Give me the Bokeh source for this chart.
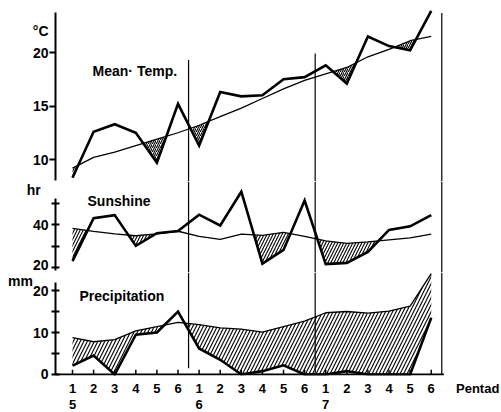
import numpy as np
from bokeh.plotting import figure
from bokeh.layouts import column
from bokeh.models import Range1d, FixedTicker, LinearAxis, Label
from bokeh.embed import file_html
from bokeh.resources import INLINE

# ---- data -------------------------------------------------------------
pentad = list(range(18))
pentad_labels = ["1", "2", "3", "4", "5", "6"] * 3
month_labels = ["5", "6", "7"]
month_starts = [0, 6, 12]
pentad_title_pos = 19.2

# month boundary lines (pentad position, top in °C, bottom in mm)
month_bounds = [5.5, 11.5, 17.5]
bound_tops_temp = [19.3, 19.9, 23.7]
bound_bottoms_prec = [1.5, 0.0, 0.0]

temp_obs = [8.3, 12.6, 13.3, 12.5, 9.7, 15.2, 11.3, 16.3, 15.9, 16.0,
            17.5, 17.7, 18.8, 17.1, 21.5, 20.6, 20.2, 23.9]
temp_norm = [9.2, 10.2, 10.7, 11.3, 11.9, 12.5, 13.2, 14.0, 14.8, 15.7,
             16.6, 17.4, 18.0, 18.6, 19.6, 20.3, 21.1, 21.5]

sun_obs = [23.1, 43.1, 44.5, 30.2, 36.1, 37.1, 44.7, 39.7, 55.4, 21.9,
           28.3, 51.3, 21.7, 22.3, 27.4, 37.6, 39.3, 44.5]
sun_norm = [38.3, 36.9, 35.8, 34.9, 35.8, 37.0, 34.6, 33.2, 35.7, 35.1,
            36.5, 34.6, 32.5, 31.4, 32.1, 33.0, 33.9, 35.7]

prec_obs = [2.1, 4.5, 0.0, 9.5, 10.0, 15.0, 6.2, 3.5, 0.0, 0.8,
            2.2, 0.0, 0.0, 0.8, 0.0, 0.0, 0.0, 13.5]
prec_norm = [8.8, 7.8, 8.3, 10.4, 11.4, 12.4, 11.9, 11.1, 10.8, 10.1,
             11.4, 12.7, 14.7, 15.0, 14.6, 15.1, 16.3, 24.0]

# ---- helpers ------------------------------------------------------------
FONT = "Liberation Sans"
LEFT = 55
FRAME_W = 446
NBSP = "\u00a0"
x_range = Range1d(-0.806, 20.33)


def deficit_band(x, obs, norm):
    """Band between observed and normal where observed falls short."""
    xs, lo, hi = [], [], []
    for i in range(len(x)):
        if i > 0:
            d0 = obs[i - 1] - norm[i - 1]
            d1 = obs[i] - norm[i]
            if d0 * d1 < 0:
                t = d0 / (d0 - d1)
                xc = x[i - 1] + t * (x[i] - x[i - 1])
                yc = obs[i - 1] + t * (obs[i] - obs[i - 1])
                xs.append(xc)
                lo.append(yc)
                hi.append(yc)
        xs.append(x[i])
        lo.append(obs[i])
        hi.append(max(obs[i], norm[i]))
    return xs, lo, hi


def make_panel(frame_h, y0, y1, below=False):
    p = figure(frame_width=FRAME_W, frame_height=frame_h,
               x_range=x_range, y_range=Range1d(y0, y1),
               x_axis_location="below" if below else None,
               y_axis_location=None,
               output_backend="svg", toolbar_location=None,
               min_border_left=LEFT, min_border_right=0,
               min_border_top=0, min_border_bottom=0)
    p.outline_line_color = None
    p.grid.visible = False
    p.background_fill_color = "white"
    p.border_fill_color = "white"
    return p


def add_y_axes(p, ticks, bounds, tick_in, tick_out, labels, standoff):
    """Inner axis carries the line and tick marks, outer one the labels."""
    inner = LinearAxis(ticker=FixedTicker(ticks=ticks), bounds=bounds,
                       major_label_overrides={t: "" for t in ticks},
                       axis_line_width=2, axis_line_color="black",
                       major_tick_line_width=2, major_tick_in=tick_in,
                       major_tick_out=tick_out, minor_tick_line_color=None,
                       major_label_standoff=0)
    p.add_layout(inner, "left")
    lab_ticks = list(labels.keys())
    outer = LinearAxis(ticker=FixedTicker(ticks=lab_ticks),
                       major_label_overrides=labels,
                       axis_line_color=None, major_tick_line_color=None,
                       major_tick_in=0, major_tick_out=0,
                       minor_tick_line_color=None,
                       major_label_standoff=standoff,
                       major_label_text_font=FONT,
                       major_label_text_font_style="bold",
                       major_label_text_font_size="14px",
                       major_label_text_color="black")
    p.add_layout(outer, "left")


def draw_series(p, obs, norm, hatch_scale):
    xs, lo, hi = deficit_band(pentad, obs, norm)
    p.varea(x=xs, y1=lo, y2=hi, fill_color=None, fill_alpha=0,
            hatch_pattern="/", hatch_color="black",
            hatch_scale=hatch_scale, hatch_weight=1.1)
    p.line(pentad, norm, line_color="black", line_width=1.3)
    p.line(pentad, obs, line_color="black", line_width=2.6,
           line_join="miter")


def add_text(p, x, y, text, size="14px"):
    p.add_layout(Label(x=x, y=y, text=text, text_font=FONT,
                       text_font_style="bold", text_font_size=size,
                       text_align="left", text_baseline="middle",
                       text_color="black"))


# ---- mean temperature ------------------------------------------------------
p_temp = make_panel(181, 7.944, 24.86)
add_y_axes(p_temp, [10, 15, 20], (8.04, 23.7), 0, 6,
           {10: "10", 15: "15", 20: "20", 22: "°C"}, 1)
draw_series(p_temp, temp_obs, temp_norm, 4)
p_temp.segment(x0=month_bounds, y0=bound_tops_temp, x1=month_bounds,
               y1=[p_temp.y_range.start] * 3, line_color="black",
               line_width=1.2)
add_text(p_temp, 0.95, 18.3, "Mean· Temp.")

# ---- sunshine ------------------------------------------------------------------
p_sun = make_panel(91, 17.81, 60.14)
add_y_axes(p_sun, [20, 30, 40, 50], (18.7, 52.1), 4, 4,
           {20: "20", 40: "40", 56.5: "hr" + NBSP * 2}, 3)
draw_series(p_sun, sun_obs, sun_norm, 6)
p_sun.segment(x0=month_bounds, y0=[p_sun.y_range.end] * 3, x1=month_bounds,
              y1=[p_sun.y_range.start] * 3, line_color="black",
              line_width=1.2)
add_text(p_sun, 0.71, 51.3, "Sunshine")

# ---- precipitation ------------------------------------------------------------
p_prec = make_panel(103, -0.24, 24.29, below=True)
add_y_axes(p_prec, [0, 5, 10, 15, 20], (0, 21.9), 4, 4,
           {0: "0", 10: "10", 20: "20", 23: "mm" + NBSP * 4}, 3)
draw_series(p_prec, prec_obs, prec_norm, 7)
p_prec.segment(x0=month_bounds, y0=[p_prec.y_range.end] * 3, x1=month_bounds,
               y1=bound_bottoms_prec, line_color="black", line_width=1.2)
add_text(p_prec, 0.33, 18.8, "Precipitation")

# time axis: baseline and upward pentad ticks
p_prec.segment(x0=[x_range.start], y0=[0], x1=[17.6], y1=[0],
               line_color="black", line_width=2)
p_prec.segment(x0=pentad, y0=[0] * len(pentad), x1=pentad,
               y1=[1.1] * len(pentad), line_color="black", line_width=1.5)

xa = p_prec.xaxis[0]
xa.ticker = FixedTicker(ticks=pentad + [pentad_title_pos])
overrides = {i: pentad_labels[i] for i in pentad}
overrides[pentad_title_pos] = "Pentad"
xa.major_label_overrides = overrides
xa.axis_line_color = None
xa.major_tick_line_color = None
xa.major_tick_in = 0
xa.major_tick_out = 0
xa.minor_tick_line_color = None
xa.major_label_text_font = FONT
xa.major_label_text_font_style = "bold"
xa.major_label_text_font_size = "13px"
xa.major_label_text_color = "black"
xa.major_label_standoff = 5

month_axis = LinearAxis(ticker=FixedTicker(ticks=month_starts),
                        major_label_overrides={s: m for s, m in zip(month_starts, month_labels)},
                        axis_line_color=None, major_tick_line_color=None,
                        major_tick_in=0, major_tick_out=0,
                        minor_tick_line_color=None, major_label_standoff=1,
                        major_label_text_font=FONT,
                        major_label_text_font_style="bold",
                        major_label_text_font_size="13px",
                        major_label_text_color="black")
p_prec.add_layout(month_axis, "below")

layout = column(p_temp, p_sun, p_prec, spacing=0)

open("out.html", "w").write(file_html(layout, INLINE))
